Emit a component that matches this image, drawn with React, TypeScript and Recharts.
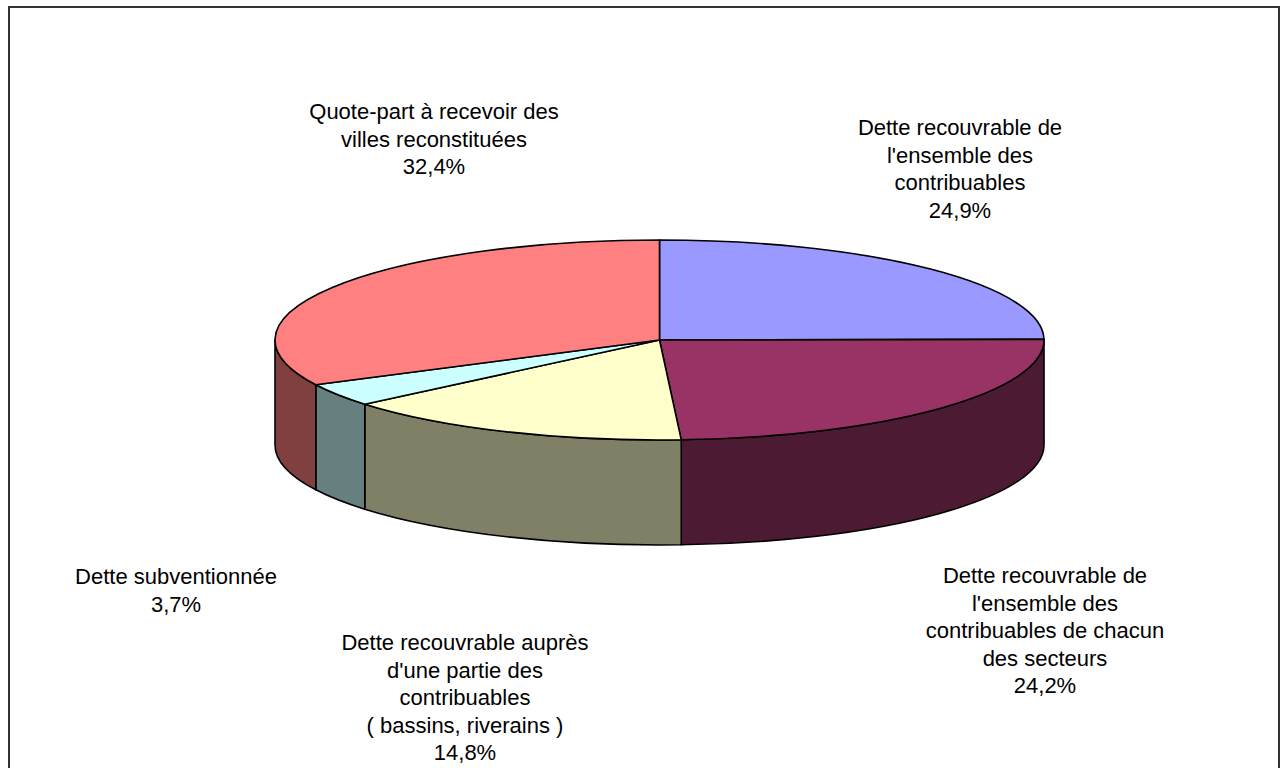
import { Pie, PieChart } from "recharts";

// slices clockwise from 12 o'clock
const CATEGORIES = [
  "Dette recouvrable de l'ensemble des contribuables",
  "Dette recouvrable de l'ensemble des contribuables de chacun des secteurs",
  "Dette recouvrable auprès d'une partie des contribuables ( bassins, riverains )",
  "Dette subventionnée",
  "Quote-part à recevoir des villes reconstituées",
];
const SHARES = [24.9, 24.2, 14.8, 3.7, 32.4];
const LABEL_LINES = [
  ["Dette recouvrable de", "l'ensemble des", "contribuables"],
  ["Dette recouvrable de", "l'ensemble des", "contribuables de chacun", "des secteurs"],
  ["Dette recouvrable auprès", "d'une partie des", "contribuables", "( bassins, riverains )"],
  ["Dette subventionnée"],
  ["Quote-part à recevoir des", "villes reconstituées"],
];
const TOP_COLORS = ["#9999FF", "#993366", "#FFFFCC", "#CCFFFF", "#FF8080"];
const SIDE_COLORS = ["#4D4D80", "#4D1A33", "#808066", "#668080", "#804040"];

// label block centres (x, centre of first line)
const LABEL_POS: [number, number][] = [
  [960, 127],
  [1045, 575],
  [465, 642],
  [176, 576],
  [434, 111],
];

const RY_RATIO = 0.26;
const DEPTH = 105;
const LINE_H = 27.5;

const chartData = CATEGORIES.map((name, i) => ({
  name,
  value: SHARES[i],
  fill: TOP_COLORS[i],
  side: SIDE_COLORS[i],
}));

const RAD = Math.PI / 180;

function Slice3D(props: any) {
  const { cx, cy, outerRadius, startAngle, endAngle, payload } = props;
  const rx = outerRadius;
  const ry = outerRadius * RY_RATIO;
  const pt = (a: number, dy = 0) =>
    `${cx + rx * Math.cos(a * RAD)},${cy - ry * Math.sin(a * RAD) + dy}`;
  const hi = Math.max(startAngle, endAngle);
  const lo = Math.min(startAngle, endAngle);
  const large = hi - lo > 180 ? 1 : 0;
  const top = `M${cx},${cy} L${pt(hi)} A${rx},${ry} 0 ${large} 1 ${pt(lo)} Z`;

  // front wall: part of the arc between -180 and 0 degrees
  const a1 = Math.min(hi, 0);
  const a2 = Math.max(lo, -180);
  let side: string | null = null;
  if (a1 > a2) {
    side =
      `M${pt(a1)} A${rx},${ry} 0 0 1 ${pt(a2)} L${pt(a2, DEPTH)} ` +
      `A${rx},${ry} 0 0 0 ${pt(a1, DEPTH)} Z`;
  }
  return (
    <g>
      {side && (
        <path d={side} fill={payload.side} stroke="#000" strokeWidth={1.6} strokeLinejoin="round" />
      )}
      <path d={top} fill={payload.fill} stroke="#000" strokeWidth={1.6} strokeLinejoin="round" />
    </g>
  );
}

function renderLabel(props: any) {
  const idx = CATEGORIES.indexOf(props.name ?? props.payload?.name);
  if (idx < 0) return null;
  const [x, y] = LABEL_POS[idx];
  const lines = [...LABEL_LINES[idx], `${SHARES[idx].toFixed(1).replace(".", ",")}%`];
  return (
    <text
      key={`lbl-${idx}`}
      x={x}
      y={y + 8}
      textAnchor="middle"
      fill="#000"
      fontSize={22}
      fontFamily="'Liberation Sans', Arial, sans-serif"
    >
      {lines.map((ln, i) => (
        <tspan key={i} x={x} dy={i === 0 ? 0 : LINE_H}>
          {ln}
        </tspan>
      ))}
    </text>
  );
}

export default function App() {
  return (
    <div
      style={{
        position: "absolute",
        left: 0,
        top: 0,
        width: 1284,
        height: 768,
        overflow: "hidden",
        background: "#fff",
      }}
    >
      <div
        style={{
          position: "absolute",
          left: 8,
          top: 6,
          width: 1268,
          height: 800,
          border: "2px solid #333",
        }}
      />
      <div style={{ position: "absolute", left: 0, top: 0 }}>
        <PieChart width={1284} height={768} margin={{ top: 0, right: 0, bottom: 0, left: 0 }}>
          <Pie
            data={chartData}
            dataKey="value"
            nameKey="name"
            cx={659.5}
            cy={340}
            outerRadius={384.5}
            startAngle={90}
            endAngle={-270}
            stroke="#000"
            shape={Slice3D}
            label={renderLabel}
            labelLine={false}
            isAnimationActive={false}
          />
        </PieChart>
      </div>
    </div>
  );
}
